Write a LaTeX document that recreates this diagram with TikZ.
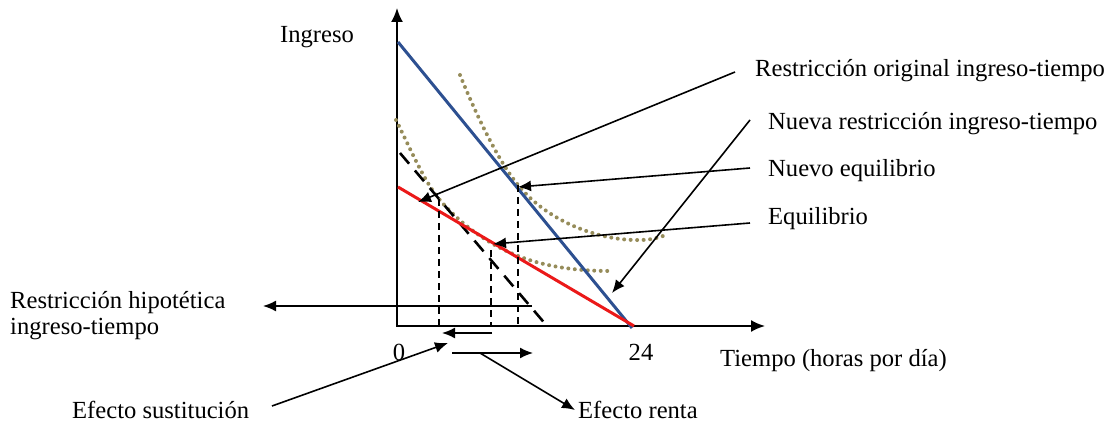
\documentclass[tikz,border=0pt]{standalone}
\usepackage{fontspec}
\setmainfont{Liberation Serif}
\usetikzlibrary{arrows.meta}
\definecolor{bluel}{RGB}{45,80,145}
\definecolor{redl}{RGB}{235,25,25}
\definecolor{olivedot}{RGB}{150,140,90}
\tikzset{
  axis/.style={line width=2pt,-{Latex[length=14pt,width=12pt]}},
  lbl/.style={font=\fontsize{24.6}{28}\selectfont,inner sep=0pt,anchor=base west},
  ptr/.style={line width=1.6pt,-{Latex[length=13pt,width=11pt]}},
  vdash/.style={line width=1.5pt,dash pattern=on 7pt off 5pt},
  hypo/.style={line width=2.6pt,dash pattern=on 14pt off 9pt},
  indiff/.style={olivedot,line width=4pt,line cap=round,dash pattern=on 0pt off 6.5pt}
}
\begin{document}
\begin{tikzpicture}[x=1pt,y=-1pt]
\useasboundingbox (0,0) rectangle (1114,422);
% axes
\coordinate (O) at (397,326);
\coordinate (ytop) at (397,8);
\coordinate (xend) at (765,326);
\draw[axis] (O) -- (ytop);
\draw[axis] (396,326) -- (xend);
% indifference curves
\draw[indiff] (396,120) .. controls (410,148) and (424,181) .. (439,199)
  .. controls (457,220) and (475,233.5) .. (493,244)
  .. controls (533,267) and (575,271) .. (612,271);
\draw[indiff] (460,75) .. controls (475,112) and (498,161) .. (518,185)
  .. controls (548,222) and (600,241) .. (640,240)
  .. controls (650,240) and (657,238) .. (663,236);
% budget lines
\coordinate (b0) at (398,42);
\coordinate (b1) at (632,328);
\coordinate (r0) at (398,187);
\coordinate (r1) at (634,326);
\coordinate (h0) at (400,153);
\coordinate (h1) at (547,326);
\draw[hypo] (h0) -- (h1);
\draw[bluel,line width=3pt] (b0) -- (b1);
\draw[redl,line width=3pt] (r0) -- (r1);
% tangency points
\coordinate (eH) at (439,199);
\coordinate (eE) at (493,244);
\coordinate (eN) at (518,185);
\draw[vdash] (eH) -- (439,326);
\draw[vdash] (491,250) -- (491,326);
\draw[vdash] (eN) -- (518,326);
% labels
\node[lbl] (ing) at (280,43) {Ingreso};
\node[lbl,anchor=base] (zero) at (399,360) {0};
\node[lbl,anchor=base] (tf) at (641,360) {24};
\node[lbl] (tiempo) at (720,366) {Tiempo (horas por día)};
\node[lbl] (lro) at (755,77) {Restricción original ingreso-tiempo};
\node[lbl] (lnr) at (768,130) {Nueva restricción ingreso-tiempo};
\node[lbl] (lne) at (768,177) {Nuevo equilibrio};
\node[lbl] (leq) at (768,225) {Equilibrio};
\node[lbl] (lhy1) at (10,308) {Restricción hipotética};
\node[lbl] (lhy2) at (10,334) {ingreso-tiempo};
\node[lbl] (les) at (72,418) {Efecto sustitución};
\node[lbl] (ler) at (578,418) {Efecto renta};
% pointer coordinates
\coordinate (sro) at (735,72);
\coordinate (tro) at (418,202);
\coordinate (snr) at (750,120);
\coordinate (tnr) at (612,293);
\coordinate (sne) at (750,168);
\coordinate (tne) at (518,187);
\coordinate (seq) at (750,223);
\coordinate (teq) at (493,244);
\coordinate (shy) at (532,306);
\coordinate (thy) at (263,306);
\coordinate (ss0) at (492,333);
\coordinate (ss1) at (442,333);
\coordinate (sr0) at (452,353);
\coordinate (sr1) at (533,353);
\coordinate (ses) at (272,406);
\coordinate (tes) at (448,343);
\coordinate (ser) at (480,353);
\coordinate (ter) at (575,410);
\draw[ptr] (sro) -- (tro);
\draw[ptr] (snr) -- (tnr);
\draw[ptr] (sne) -- (tne);
\draw[ptr] (seq) -- (teq);
\draw[ptr] (shy) -- (thy);
\draw[ptr] (ss0) -- (ss1);
\draw[ptr] (sr0) -- (sr1);
\draw[ptr] (ses) -- (tes);
\draw[ptr] (ser) -- (ter);
\end{tikzpicture}
\end{document}
